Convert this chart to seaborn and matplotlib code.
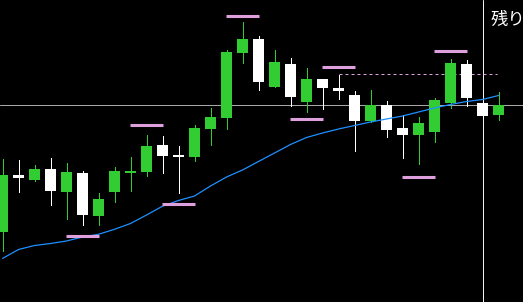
import numpy as np
import pandas as pd
import matplotlib
matplotlib.use("Agg")
import matplotlib.pyplot as plt
import seaborn as sns

# ---- data ----
opens  = [150.70, 151.27, 151.22, 151.33, 151.10, 151.29, 150.86, 151.10, 151.29, 151.30,
          151.57, 151.47, 151.45, 151.73, 151.84, 152.49, 152.63, 152.15, 152.38, 152.00,
          152.23, 152.14, 152.07, 151.81, 151.97, 151.74, 151.67, 151.70, 151.99, 152.38,
          151.99, 151.87]
highs  = [151.43, 151.42, 151.37, 151.44, 151.39, 151.31, 151.09, 151.35, 151.45, 151.67,
          151.66, 151.56, 151.77, 151.94, 152.52, 152.80, 152.66, 152.52, 152.44, 152.34,
          152.23, 152.27, 152.11, 152.12, 152.01, 151.87, 151.85, 152.04, 152.43, 152.42,
          152.00, 152.10]
lows   = [150.51, 151.10, 151.21, 150.97, 150.83, 150.77, 150.77, 151.00, 151.11, 151.26,
          151.29, 151.09, 151.41, 151.57, 151.73, 152.39, 152.12, 152.15, 151.96, 151.90,
          151.93, 152.03, 151.51, 151.80, 151.65, 151.44, 151.38, 151.60, 151.94, 151.96,
          151.84, 151.82]
closes = [151.27, 151.24, 151.33, 151.11, 151.30, 150.87, 151.03, 151.31, 151.31, 151.56,
          151.46, 151.45, 151.74, 151.85, 152.50, 152.63, 152.20, 152.40, 152.05, 152.23,
          152.14, 152.11, 151.81, 151.97, 151.72, 151.67, 151.79, 152.02, 152.39, 152.04,
          151.86, 151.97]
ma     = [150.435, 150.525, 150.565, 150.585, 150.61, 150.65, 150.677, 150.727, 150.785, 150.87,
          150.958, 151.015, 151.06, 151.16, 151.25, 151.32, 151.405, 151.49, 151.575, 151.645,
          151.69, 151.73, 151.765, 151.80, 151.83, 151.86, 151.90, 151.94, 151.975, 152.005,
          152.025, 152.065]
marker_idx    = [5, 9, 11, 15, 19, 21, 26, 28]
marker_prices = [150.665, 151.775, 150.985, 152.865, 151.835, 152.355, 151.255, 152.515]
dashed_level = 152.28
dashed_start, dashed_end = 21, 30.93
vline_idx = 30
label_text = "残り"

# ---- style ----
sns.set_theme(style="dark", rc={"axes.facecolor": "black", "figure.facecolor": "black"})
plt.rcParams['font.family'] = ['Noto Sans CJK JP', 'DejaVu Sans']

BULL = "#32cd32"
BEAR = "#ffffff"
PINK = "#dda0dd"
BLUE = "#1e90ff"

fig = plt.figure(figsize=(5.23, 3.02), dpi=100)
ax = fig.add_axes([0, 0, 1, 1])
ax.set_facecolor("black")

n = len(opens)
df = pd.DataFrame({"x": np.arange(n), "open": opens, "high": highs,
                   "low": lows, "close": closes, "ma": ma})

# horizontal price line
ax.axhline(closes[-1], color="#a8a8a8", lw=0.72, zorder=1)
# vertical separator
ax.axvline(vline_idx, color="#f0f0f0", lw=0.72, zorder=1)

colors = [BULL if c >= o else BEAR for o, c in zip(df["open"], df["close"])]
ax.vlines(df["x"], df["low"], df["high"], colors=colors, lw=0.72, zorder=2,
          antialiased=False)
bottoms = np.minimum(df["open"], df["close"])
heights = np.maximum(np.abs(df["close"] - df["open"]), 0.02)
ax.bar(df["x"], heights, bottom=bottoms, width=0.70, color=colors,
       edgecolor="none", zorder=3)

# moving average
sns.lineplot(data=df, x="x", y="ma", ax=ax, color=BLUE, lw=0.9, zorder=4)

# dashed level
ax.hlines(dashed_level, dashed_start, dashed_end, colors=PINK, lw=0.72,
          linestyles=(0, (3, 3)), zorder=2)

# pink markers
for i, p in zip(marker_idx, marker_prices):
    ax.hlines(p, i - 1.06, i + 1.06, colors=PINK, lw=2.2, zorder=5,
              capstyle="butt")

ax.text(491 / 523, 1 - 19.5 / 302, label_text, transform=ax.transAxes,
        color="white", fontsize=12.5, ha="left", va="center")

ax.set_xlim(-2.5 / 16, (523 - 2.5) / 16)
ax.set_ylim(150.00, 153.02)
ax.axis("off")
if ax.get_legend() is not None:
    ax.get_legend().remove()

fig.savefig("out.png", dpi=100, facecolor="black")
